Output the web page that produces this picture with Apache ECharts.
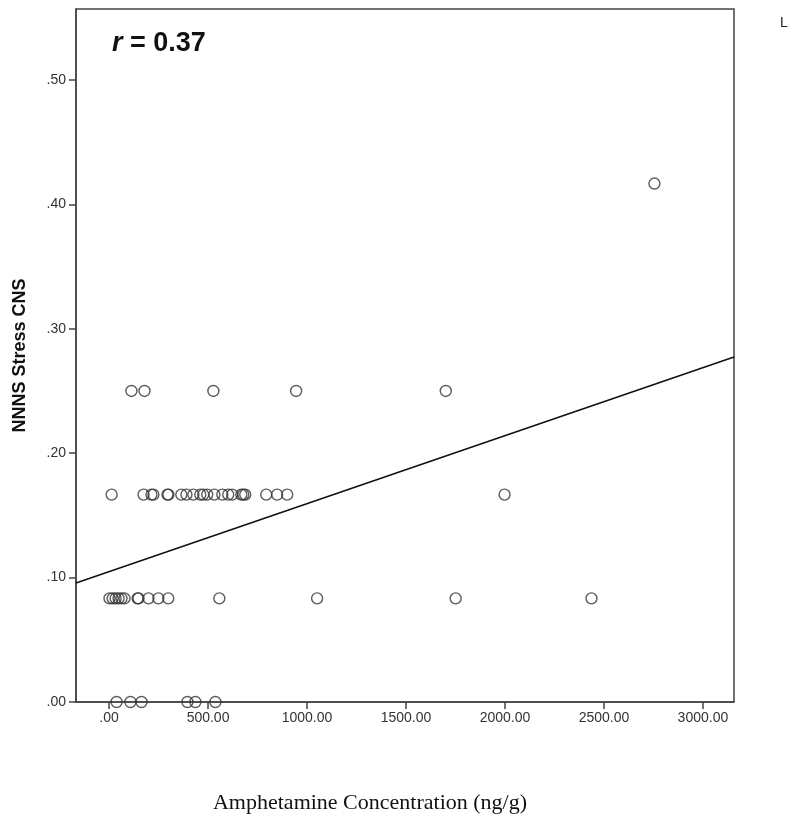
<!DOCTYPE html>
<html>
<head>
<meta charset="utf-8">
<script src="https://cdn.jsdelivr.net/npm/echarts@6/dist/echarts.min.js"></script>
<style>
  html, body { margin: 0; padding: 0; background: #fff; }
  #chart { width: 800px; height: 826px; }
</style>
</head>
<body>
<div id="chart"></div>
<script>
// amphetamine concentration (ng/g) per stress level
const xLevel0 = [38, 108, 164, 396, 436, 537];
const xLevel1 = [2, 18, 33, 48, 63, 78, 144, 149, 199, 249, 299, 557, 1051, 1751, 2437];
const xLevel2 = [13, 174, 214, 224, 295, 300, 365, 391, 426, 461, 476, 496, 532, 572, 602, 622, 668, 678, 688, 794, 849, 900, 1998];
const xLevel3 = [113, 179, 527, 945, 1701];
const xLevel5 = [2755];
const stressLevels = [0, 0.0833, 0.1667, 0.25, 0.4167];

// fit line end points
const fitX = [-167, 3157];
const fitY = [0.0957, 0.2773];

const xTicks = [0, 500, 1000, 1500, 2000, 2500, 3000];
const yTicks = [0, 0.1, 0.2, 0.3, 0.4, 0.5];

const groups = [xLevel0, xLevel1, xLevel2, xLevel3, xLevel5];
let points = [];
groups.forEach(function (g, i) {
    g.forEach(function (x) {
        points.push([x, stressLevels[i]]);
    });
});

const fmt = function (v) {
    return v.toFixed(2).replace(/^0/, '');
};

const myChart = echarts.init(document.getElementById('chart'));
const option = {
    animation: false,
    backgroundColor: '#fff',
    grid: {
        left: 76,
        top: 9,
        right: 66,
        bottom: 124,
        outerBoundsMode: 'none',
        containLabel: false,
        show: true,
        borderColor: '#444',
        borderWidth: 1.5,
        backgroundColor: 'transparent'
    },
    xAxis: {
        type: 'value',
        min: -167,
        max: 3157,
        splitLine: { show: false },
        axisLine: { show: true, onZero: false, lineStyle: { color: '#444', width: 1.5 } },
        axisTick: {
            show: true,
            length: 7,
            customValues: xTicks,
            lineStyle: { color: '#444', width: 1.5 }
        },
        axisLabel: {
            customValues: xTicks,
            formatter: fmt,
            color: '#333',
            fontFamily: 'Liberation Sans',
            fontSize: 14,
            margin: 9
        },
        name: 'Amphetamine Concentration (ng/g)',
        nameLocation: 'middle',
        nameGap: 90,
        nameTextStyle: {
            fontFamily: 'Liberation Serif',
            fontSize: 22,
            color: '#111',
            padding: [0, 70, 0, 0]
        }
    },
    yAxis: {
        type: 'value',
        min: 0,
        max: 0.557,
        splitLine: { show: false },
        axisLine: { show: true, onZero: false, lineStyle: { color: '#444', width: 1.5 } },
        axisTick: {
            show: true,
            length: 7,
            customValues: yTicks,
            lineStyle: { color: '#444', width: 1.5 }
        },
        axisLabel: {
            customValues: yTicks,
            formatter: fmt,
            color: '#333',
            fontFamily: 'Liberation Sans',
            fontSize: 14,
            margin: 10
        },
        name: 'NNNS Stress CNS',
        nameLocation: 'middle',
        nameGap: 47,
        nameTextStyle: {
            fontFamily: 'Liberation Sans',
            fontWeight: 'bold',
            fontSize: 18,
            color: '#111'
        }
    },
    graphic: [
        {
            type: 'text',
            left: 112,
            top: 30,
            style: {
                rich: {
                    i: { fontStyle: 'italic', fontWeight: 'bold', fontSize: 27, fontFamily: 'Liberation Sans', fill: '#111' },
                    n: { fontWeight: 'bold', fontSize: 27, fontFamily: 'Liberation Sans', fill: '#111' }
                },
                text: '{i|r}{n| = 0.37}'
            }
        },
        {
            type: 'text',
            left: 780,
            top: 16,
            style: { text: 'L', fontSize: 14, fontFamily: 'Liberation Sans', fill: '#222' }
        }
    ],
    series: [
        {
            type: 'line',
            data: [[fitX[0], fitY[0]], [fitX[1], fitY[1]]],
            symbol: 'none',
            lineStyle: { color: '#111', width: 1.6 },
            z: 1
        },
        {
            type: 'scatter',
            data: points,
            symbol: 'circle',
            symbolSize: 11,
            itemStyle: {
                color: 'rgba(255,255,255,0)',
                borderColor: '#333',
                borderWidth: 1.4
            },
            z: 2
        }
    ]
};
myChart.setOption(option);
</script>
</body>
</html>
